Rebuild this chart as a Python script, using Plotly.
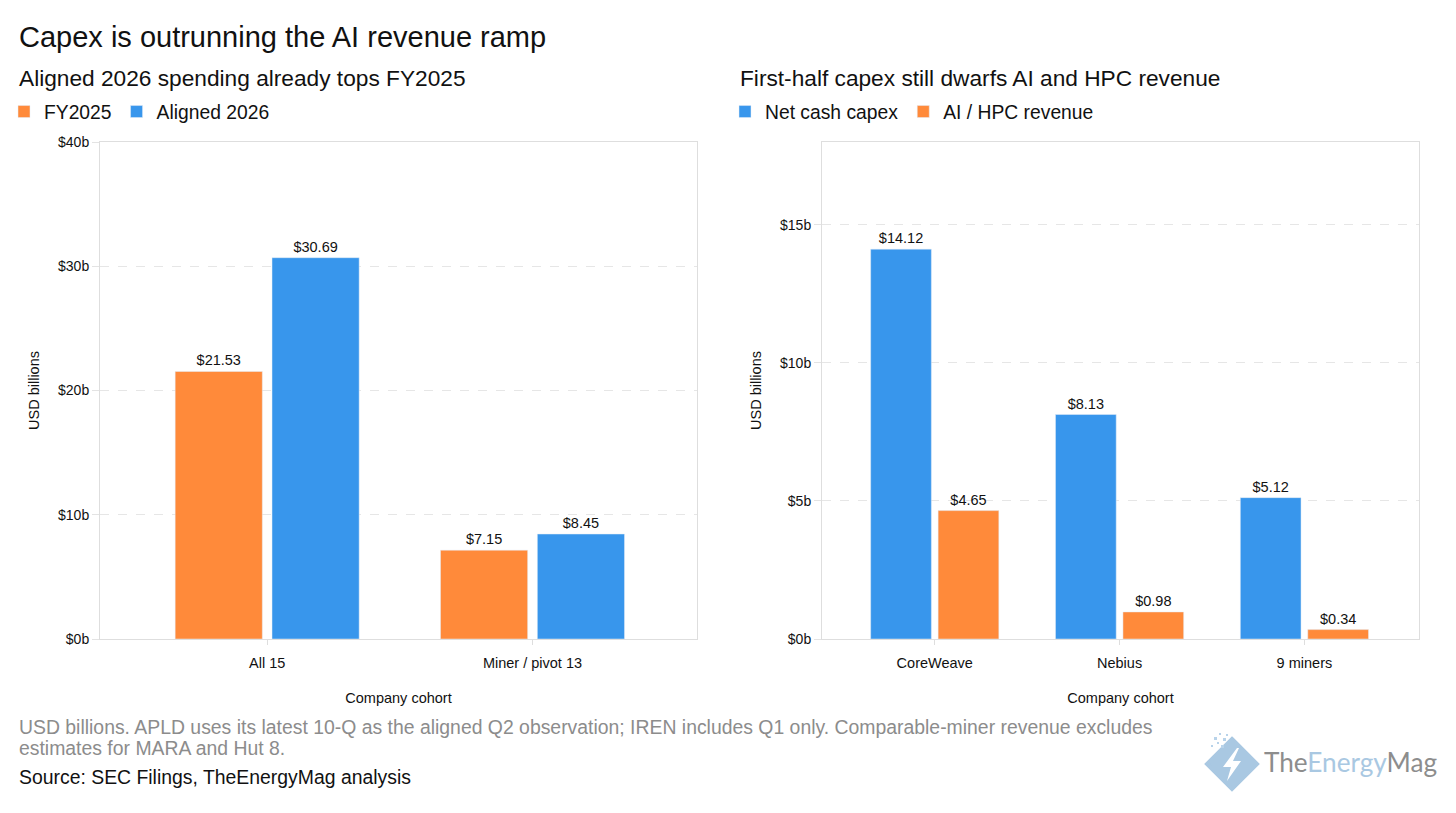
import plotly.graph_objects as go

W, H = 1456, 813

# left panel data
cohorts_left = ["All 15", "Miner / pivot 13"]
fy2025 = [21.53, 7.15]
aligned_2026 = [30.69, 8.45]

# right panel data
cohorts_right = ["CoreWeave", "Nebius", "9 miners"]
net_cash_capex = [14.12, 8.13, 5.12]
ai_hpc_revenue = [4.65, 0.98, 0.34]

ORANGE = "#FF8A3A"
BLUE = "#3896EC"
FONT = "Liberation Sans, Arial, sans-serif"


def px(x):
    return x / W


def py(y):
    return 1 - y / H


fig = go.Figure()

bar_text = dict(
    texttemplate="$%{y:.2f}",
    textposition="outside",
    textfont=dict(size=14.5, color="#111"),
    cliponaxis=False,
    hoverinfo="skip",
)

fig.add_trace(go.Bar(x=cohorts_left, y=fy2025, name="FY2025", marker_color=ORANGE,
                     xaxis="x", yaxis="y", legend="legend", **bar_text))
fig.add_trace(go.Bar(x=cohorts_left, y=aligned_2026, name="Aligned 2026", marker_color=BLUE,
                     xaxis="x", yaxis="y", legend="legend", **bar_text))
fig.add_trace(go.Bar(x=cohorts_right, y=net_cash_capex, name="Net cash capex", marker_color=BLUE,
                     xaxis="x2", yaxis="y2", legend="legend2", **bar_text))
fig.add_trace(go.Bar(x=cohorts_right, y=ai_hpc_revenue, name="AI / HPC revenue", marker_color=ORANGE,
                     xaxis="x2", yaxis="y2", legend="legend2", **bar_text))

xaxis_style = dict(
    showline=True, mirror=True, linecolor="#dedede", linewidth=1,
    ticks="outside", ticklen=5, tickcolor="#dedede", ticklabelstandoff=6,
    tickfont=dict(size=14.5, color="#111"),
    title=dict(text="Company cohort", font=dict(size=14.5, color="#111"), standoff=22),
    showgrid=False, fixedrange=True,
)
yaxis_style = dict(
    showline=True, mirror=True, linecolor="#dedede", linewidth=1,
    ticks="outside", ticklen=7, tickcolor="#e3e3e3",
    tickprefix="$", ticksuffix="b",
    tickfont=dict(size=14, color="#111"),
    title=dict(text="USD billions", font=dict(size=14.5, color="#111"), standoff=14),
    showgrid=True, gridcolor="#e6e6e6", griddash="dash", gridwidth=1,
    zeroline=False, fixedrange=True,
)

legend_style = dict(
    orientation="h", xanchor="left", yanchor="middle",
    font=dict(size=19.3, color="#111"), itemwidth=30,
    bgcolor="rgba(0,0,0,0)", traceorder="normal",
)

fig.update_layout(
    width=W, height=H,
    margin=dict(l=0, r=0, t=0, b=0, autoexpand=False),
    paper_bgcolor="white", plot_bgcolor="white",
    font=dict(family=FONT, color="#111"),
    barmode="group", bargap=0.27, bargroupgap=0.1,
    xaxis=dict(domain=[px(100), px(697)], anchor="y", range=[-0.63, 1.62], **xaxis_style),
    yaxis=dict(domain=[py(639), py(142)], anchor="x", range=[0, 40], dtick=10, **yaxis_style),
    xaxis2=dict(domain=[px(822), px(1419)], anchor="y2", range=[-0.61, 2.62], **xaxis_style),
    yaxis2=dict(domain=[py(639), py(142)], anchor="x2", range=[0, 18], dtick=5, **yaxis_style),
    legend=dict(x=px(4), y=py(112), **legend_style),
    legend2=dict(x=px(725), y=py(112), **legend_style),
)

note_font = dict(size=19.4, color="#8c8c8c")
annotations = [
    dict(text="Capex is outrunning the AI revenue ramp", x=px(17), y=py(37),
         font=dict(size=29, color="#111")),
    dict(text="Aligned 2026 spending already tops FY2025", x=px(17), y=py(78),
         font=dict(size=22.7, color="#111")),
    dict(text="First-half capex still dwarfs AI and HPC revenue", x=px(738), y=py(78),
         font=dict(size=22.7, color="#111")),
    dict(text="USD billions. APLD uses its latest 10-Q as the aligned Q2 observation; IREN includes Q1 only. "
              "Comparable-miner revenue excludes",
         x=px(17), y=py(727), font=note_font),
    dict(text="estimates for MARA and Hut 8.", x=px(17), y=py(748), font=note_font),
    dict(text="Source: SEC Filings, TheEnergyMag analysis", x=px(17), y=py(777),
         font=dict(size=19.4, color="#111")),
    dict(text="<span style='color:#8d8d8d'>The</span><span style='color:#a9c8e2'>Energy</span>"
              "<span style='color:#8d8d8d'>Mag</span>",
         x=px(1262), y=py(762), font=dict(size=26.2, family="Lato, Noto Sans, sans-serif")),
]
for a in annotations:
    a.update(xref="paper", yref="paper", xanchor="left", yanchor="middle",
             showarrow=False, align="left")
fig.update_layout(annotations=annotations)


# logo mark: diamond with a lightning bolt
def path(points):
    return "M" + " L".join(f"{px(x):.5f},{py(y):.5f}" for x, y in points) + " Z"


cx, cy, r = 1232, 764, 25
diamond = [(cx, cy - r), (cx + r, cy), (cx, cy + r), (cx - r, cy)]
bolt = [(cx + 5, cy - 16), (cx - 9, cy + 3), (cx - 1, cy + 3), (cx - 5, cy + 17),
        (cx + 9, cy - 3), (cx + 1, cy - 3), (cx + 7, cy - 16)]
shapes = [
    dict(type="path", path=path(diamond), fillcolor="#a9c8e2", line=dict(color="#a9c8e2", width=4)),
    dict(type="path", path=path(bolt), fillcolor="white", line=dict(width=0)),
]
for sx, sy, s in [(1214, 737, 3), (1219, 733, 2), (1223, 738, 3), (1217, 742, 2),
                  (1226, 734, 2), (1211, 745, 2), (1221, 745, 3)]:
    shapes.append(dict(type="rect", x0=px(sx), x1=px(sx + s), y0=py(sy + s), y1=py(sy),
                       fillcolor="#b8d3ea", line=dict(width=0)))
for s in shapes:
    s.update(xref="paper", yref="paper", layer="above")
fig.update_layout(shapes=shapes)

fig.write_html("out.html", config={"displayModeBar": False},
               post_script="document.body.style.margin='0';document.body.style.overflow='hidden';")
